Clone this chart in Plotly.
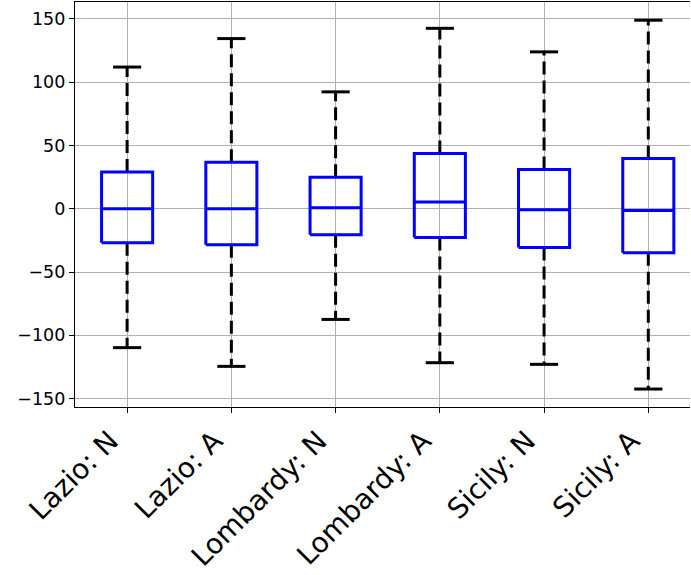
import plotly.graph_objects as go

categories = ["Lazio: N", "Lazio: A", "Lombardy: N", "Lombardy: A", "Sicily: N", "Sicily: A"]
whisker_high = [112.0, 134.5, 92.4, 142.6, 124.0, 149.0]
q3 = [29.0, 36.8, 25.0, 43.7, 31.0, 39.7]
median = [0.0, 0.0, 0.8, 5.3, -0.8, -1.3]
q1 = [-26.8, -28.4, -20.5, -22.6, -30.5, -34.7]
whisker_low = [-109.7, -124.5, -87.4, -121.6, -122.9, -142.4]
y_ticks = [-150, -100, -50, 0, 50, 100, 150]

BOX_HALF = 0.245
CAP_HALF = 0.135

wx, wy, cx, cy, bx, by, mx, my = [], [], [], [], [], [], [], []
for i in range(len(categories)):
    wx += [i, i, None, i, i, None]
    wy += [q3[i], whisker_high[i], None, q1[i], whisker_low[i], None]
    cx += [i - CAP_HALF, i + CAP_HALF, None, i - CAP_HALF, i + CAP_HALF, None]
    cy += [whisker_high[i], whisker_high[i], None, whisker_low[i], whisker_low[i], None]
    bx += [i - BOX_HALF, i + BOX_HALF, i + BOX_HALF, i - BOX_HALF, i - BOX_HALF, None]
    by += [q1[i], q1[i], q3[i], q3[i], q1[i], None]
    mx += [i - BOX_HALF, i + BOX_HALF, None]
    my += [median[i], median[i], None]

fig = go.Figure()
fig.add_trace(go.Scatter(x=wx, y=wy, mode="lines", line=dict(color="black", width=3, dash="13px,6px"),
                         hoverinfo="skip", showlegend=False))
fig.add_trace(go.Scatter(x=cx, y=cy, mode="lines", line=dict(color="black", width=3),
                         hoverinfo="skip", showlegend=False))
fig.add_trace(go.Scatter(x=bx, y=by, mode="lines", line=dict(color="#0000ff", width=3),
                         hoverinfo="skip", showlegend=False))
fig.add_trace(go.Scatter(x=mx, y=my, mode="lines", line=dict(color="#0000ff", width=3),
                         hoverinfo="skip", showlegend=False))

fig.update_layout(
    width=691, height=575,
    margin=dict(l=75, r=1, t=2, b=167.5, autoexpand=False),
    paper_bgcolor="white", plot_bgcolor="white",
    font=dict(family="DejaVu Sans", color="black"),
    showlegend=False,
)
fig.update_xaxes(
    range=[-0.5, 5.4], tickvals=list(range(len(categories))), ticktext=categories,
    tickangle=-45, tickfont=dict(size=28), automargin=False, ticklabelshift=-17,
    showgrid=True, gridcolor="#b0b0b0", gridwidth=1,
    showline=True, linecolor="black", linewidth=1.3, mirror=True,
    ticks="outside", ticklen=5, tickcolor="black", tickwidth=1.3, zeroline=False,
)
fig.update_yaxes(
    range=[-156.6, 163.4], tickvals=y_ticks, ticktext=[str(v).replace("-", "\u2212") for v in y_ticks],
    tickfont=dict(size=17.5), automargin=False,
    showgrid=True, gridcolor="#b0b0b0", gridwidth=1,
    showline=True, linecolor="black", linewidth=1.3, mirror=False,
    ticks="outside", ticklen=5, tickcolor="black", tickwidth=1.3, zeroline=False,
)

fig.write_html("out.html", config={"displayModeBar": False},
               post_script="document.body.style.margin='0';document.body.style.overflow='hidden';")
